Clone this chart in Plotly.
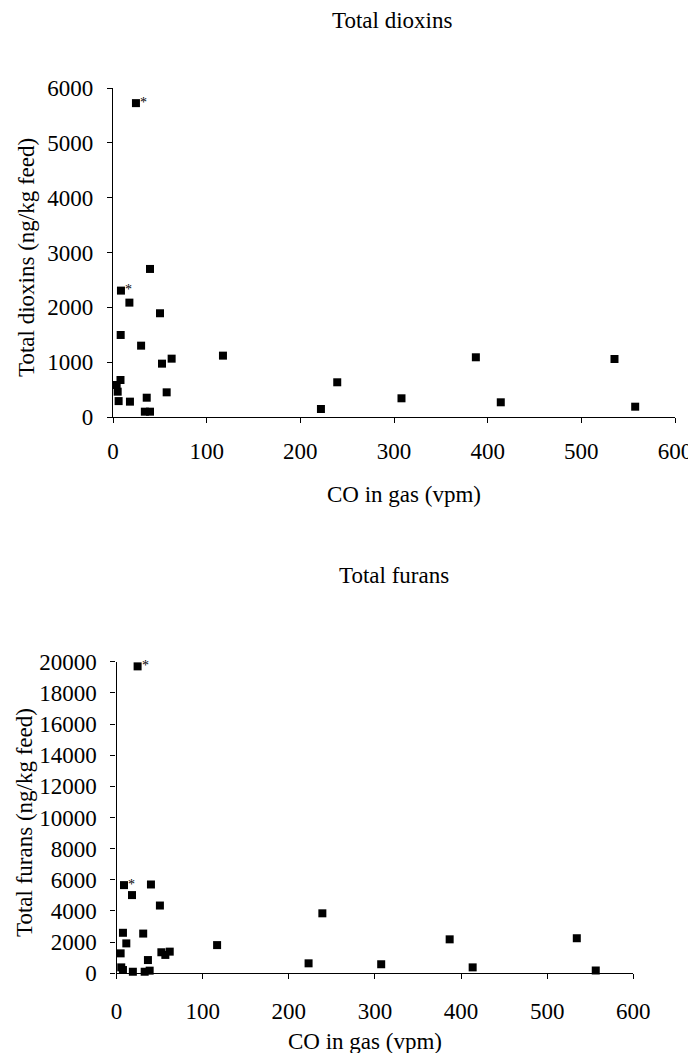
import plotly.graph_objects as go

# CO in gas (vpm) for each sample
co_dioxins = [24.5, 8.5, 39.5, 17.5, 50.2, 8.2, 30, 62.6, 52.3, 117.4, 8.0, 57.3, 36,
              18.1, 3.9, 5.0, 6.0, 34, 39.5, 222, 239.4, 308, 387.4, 414, 535.4, 557.5]
dioxins = [5724, 2305, 2700, 2086, 1892, 1496, 1301, 1064, 973, 1119, 675, 450, 352,
           280, 584, 462, 290, 97, 97, 146, 633, 341, 1089, 268, 1058, 188]
dioxin_flag = [0, 1]  # points marked with an asterisk

co_furans = [24.5, 8.7, 40, 18, 50.4, 7.5, 31, 61.8, 52.1, 116.8, 11.4, 56.7, 36.5,
             19, 4.8, 5.5, 7.5, 32.7, 38.5, 223, 239, 307.3, 386.8, 413.5, 534.4, 556.4]
furans = [19700, 5660, 5700, 5020, 4350, 2600, 2550, 1390, 1350, 1810, 1920, 1180, 850,
          100, 1280, 380, 210, 100, 170, 640, 3850, 580, 2180, 380, 2250, 180]
furan_flag = [0, 1]

x_ticks = [0, 100, 200, 300, 400, 500, 600]
dioxin_ticks = [0, 1000, 2000, 3000, 4000, 5000, 6000]
furan_ticks = list(range(0, 20001, 2000))

FONT = "Liberation Serif"
PAGE_W, PAGE_H = 696, 1061
OFF = 8  # default page body margin
W, H = PAGE_W - OFF, PAGE_H - 2 * OFF
FS = 23

def px(x):
    return (x - OFF) / W

def py(y):
    return 1 - (y - OFF) / H

fig = go.Figure()
marker = dict(symbol="square", size=8, color="black")
fig.add_trace(go.Scatter(x=co_dioxins, y=dioxins, mode="markers", marker=marker,
                         cliponaxis=False, xaxis="x", yaxis="y", showlegend=False))
fig.add_trace(go.Scatter(x=co_furans, y=furans, mode="markers", marker=marker,
                         cliponaxis=False, xaxis="x2", yaxis="y2", showlegend=False))

def txt(text, x, y, size=FS, angle=0):
    return dict(text=text, x=px(x), y=py(y), xref="paper", yref="paper",
                showarrow=False, textangle=angle, xanchor="center", yanchor="middle",
                font=dict(family=FONT, size=size, color="black"))

annotations = []
for i in dioxin_flag:
    annotations.append(dict(x=co_dioxins[i], y=dioxins[i], xref="x", yref="y", text="*",
                            showarrow=False, xshift=8, yshift=1,
                            font=dict(family=FONT, size=14, color="black")))
for i in furan_flag:
    annotations.append(dict(x=co_furans[i], y=furans[i], xref="x2", yref="y2", text="*",
                            showarrow=False, xshift=8, yshift=1,
                            font=dict(family=FONT, size=14, color="black")))
annotations += [
    txt("Total dioxins", 392, 20),
    txt("CO in gas (vpm)", 404, 494),
    txt("Total dioxins (ng/kg feed)", 26, 258, angle=-90),
    txt("Total furans", 394, 575),
    txt("CO in gas (vpm)", 365, 1041),
    txt("Total furans (ng/kg feed)", 24, 823, angle=-90),
]

tickfont = dict(family=FONT, size=FS, color="black")

def xax(domain, anchor, standoff):
    return dict(domain=domain, anchor=anchor, range=[0, 600], tickvals=x_ticks,
                ticktext=[str(v) for v in x_ticks], automargin=False,
                ticklabeloverflow="allow",
                showline=True, linecolor="black", linewidth=1.3, ticks="outside",
                ticklen=5, tickwidth=1.2, tickcolor="black", showgrid=False, zeroline=False,
                tickfont=tickfont, ticklabelstandoff=standoff)

def yax(domain, anchor, rng, vals):
    return dict(domain=domain, anchor=anchor, range=rng, tickvals=vals,
                ticktext=[str(v) for v in vals], automargin=False,
                ticklabeloverflow="allow",
                showline=True, linecolor="black", linewidth=1.3, ticks="outside",
                ticklen=5, tickwidth=1.2, tickcolor="black", showgrid=False, zeroline=False,
                tickfont=tickfont, ticklabelstandoff=9)

def overlay(ax_ref, anchor, domain, rng, vals, side):
    return dict(overlaying=ax_ref, anchor=anchor, domain=domain, range=rng, tickvals=vals,
                side=side, ticks="inside", ticklen=5, tickwidth=1.2, tickcolor="black",
                showticklabels=False, showgrid=False, zeroline=False, showline=False,
                automargin=False)

xd1 = [px(113), px(675)]
yd1 = [py(417), py(88)]
xd2 = [px(116.5), px(633.3)]
yd2 = [py(973.3), py(661.7)]

fig.update_layout(
    width=W, height=H,
    margin=dict(l=0, r=0, t=0, b=0, autoexpand=False),
    paper_bgcolor="white", plot_bgcolor="white",
    showlegend=False,
    xaxis=xax(xd1, "y", 8),
    yaxis=yax(yd1, "x", [0, 6000], dioxin_ticks),
    xaxis2=xax(xd2, "y2", 12),
    yaxis2=yax(yd2, "x2", [0, 20000], furan_ticks),
    xaxis3=overlay("x", "y", xd1, [0, 600], x_ticks, "bottom"),
    yaxis3=overlay("y", "x", yd1, [0, 6000], dioxin_ticks, "left"),
    xaxis4=overlay("x2", "y2", xd2, [0, 600], x_ticks, "bottom"),
    yaxis4=overlay("y2", "x2", yd2, [0, 20000], furan_ticks, "left"),
    annotations=annotations,
    font=dict(family=FONT, color="black"),
)

fig.write_html("out.html")
